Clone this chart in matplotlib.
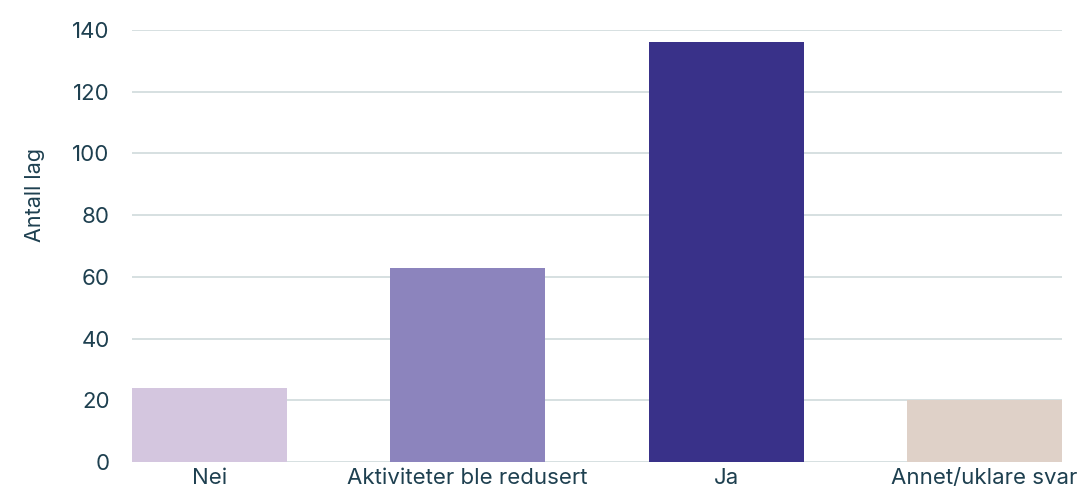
import matplotlib.pyplot as plt

plt.rcParams['font.family'] = ['Inter', 'DejaVu Sans']

categories = ["Nei", "Aktiviteter ble redusert", "Ja", "Annet/uklare svar"]
values = [24, 63, 136, 20]
colors = ["#d4c6df", "#8c84bd", "#393189", "#dfd1c8"]

text_color = "#1e4050"
grid_color = "#cfdadc"

fig = plt.figure(figsize=(10.78, 4.93), dpi=100)
ax = fig.add_axes([0.1224, 0.0629, 0.8626, 0.8763])

x = list(range(len(categories)))
ax.bar(x, values, width=0.6, color=colors, zorder=3)

ax.set_xlim(-0.3, 3.3)
ax.set_ylim(0, 140)
ax.set_yticks([0, 20, 40, 60, 80, 100, 120, 140])
ax.set_xticks(x)
ax.set_xticklabels(categories)

ax.grid(axis="y", color=grid_color, linewidth=1.2, zorder=0)
for s in ax.spines.values():
    s.set_visible(False)

ax.tick_params(axis="both", length=0, labelsize=16, colors=text_color)
ax.tick_params(axis="x", pad=4)
ax.tick_params(axis="y", pad=16)
ax.set_ylabel("Antall lag", fontsize=15.5, color=text_color)
ax.yaxis.set_label_coords(-0.094, 0.617)

fig.savefig("out.png", dpi=100)
